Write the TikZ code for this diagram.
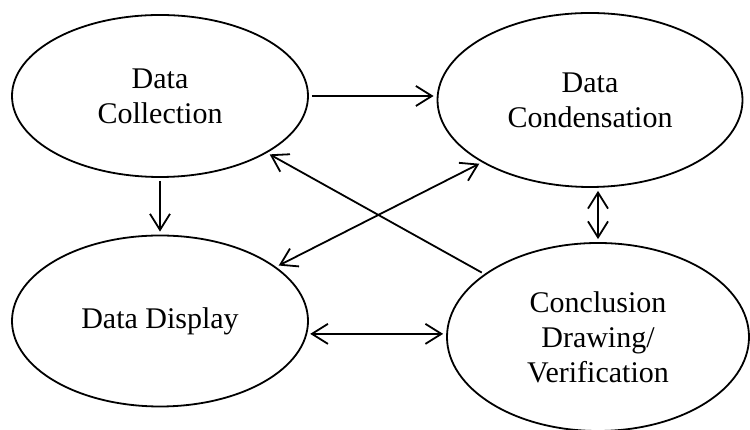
\documentclass[tikz,border=0pt]{standalone}
\usepackage{fontspec}
\setmainfont{Liberation Serif}
\usepackage{tikz}
\usetikzlibrary{arrows.meta,shapes.geometric}
\tikzset{
        stage/.style = {ellipse, draw=black, line width=1.8pt, inner sep=0pt,
            align=center, text centered, font=\fontsize{30}{35}\selectfont},
        link/.style = {line width=1.8pt, shorten >=3pt, shorten <=3pt},
        barb/.tip = {Straight Barb[length=16pt, width=20pt, line width=1.8pt]}
    }

\begin{document}
\begin{tikzpicture}[x=1pt, y=1pt, >=barb]
            \useasboundingbox (0,0) rectangle (750,430);
            % the four stages
            \node [stage, minimum width=296pt, minimum height=162pt] (coll) at (160,334) {Data\\Collection};
            \node [stage, minimum width=305pt, minimum height=174pt] (cond) at (590,330) {Data\\Condensation};
            \node [stage, minimum width=296pt, minimum height=171pt] (disp) at (160,109) {Data Display};
            \node [stage, minimum width=302pt, minimum height=188pt] (concl) at (598,93) {Conclusion\\Drawing/\\Verification};
            % connectors
            \draw [link, ->] (coll.east) -- (coll.east -| cond.west);
            \draw [link, ->] (coll.south) -- (disp.north);
            \draw [link, ->] (concl.151) -- (coll.-28);
            \draw [link, <->] (disp.25) -- (cond.210);
            \draw [link, <->] (concl.north |- cond.south) -- (concl.north);
            \draw [link, <->] (disp.-5) -- (disp.-5 -| concl.west);
        \end{tikzpicture}
\end{document}
